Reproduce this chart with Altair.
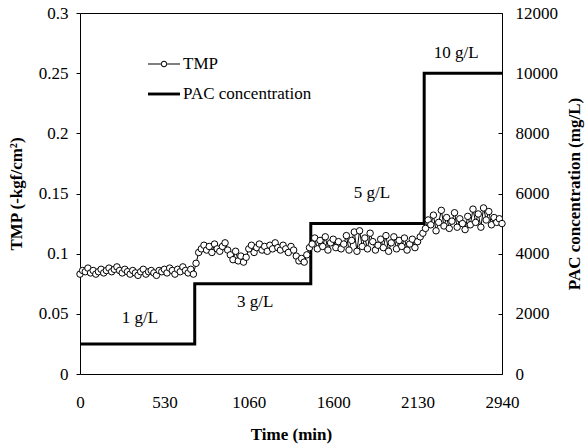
import json
import altair as alt
import pandas as pd

# ---------------- data ----------------
x_tick_labels = ["0", "530", "1060", "1600", "2130", "2940"]

tmp_1g = [0.083, 0.086, 0.085, 0.088, 0.084, 0.086, 0.083, 0.085, 0.087, 0.084,
          0.086, 0.088, 0.085, 0.087, 0.089, 0.086, 0.084, 0.087, 0.085, 0.083,
          0.086, 0.084, 0.082, 0.085, 0.087, 0.083, 0.085, 0.086, 0.084, 0.082,
          0.086, 0.085, 0.087, 0.084, 0.088, 0.086, 0.083, 0.087, 0.085, 0.089,
          0.086, 0.084, 0.087, 0.083]
tmp_3g = [0.092, 0.101, 0.104, 0.107, 0.103, 0.106, 0.101, 0.108, 0.104, 0.102,
          0.106, 0.109, 0.103, 0.099, 0.095, 0.102, 0.094, 0.098, 0.093, 0.097,
          0.104, 0.107, 0.101, 0.105, 0.108, 0.103, 0.106, 0.102, 0.107, 0.104,
          0.109, 0.105, 0.103, 0.107, 0.104, 0.101, 0.106, 0.103, 0.098, 0.094,
          0.096, 0.093, 0.099, 0.105]
tmp_5g = [0.108, 0.113, 0.104, 0.111, 0.106, 0.114, 0.103, 0.109, 0.112, 0.105,
          0.110, 0.104, 0.108, 0.115, 0.103, 0.111, 0.118, 0.102, 0.119, 0.106,
          0.113, 0.104, 0.117, 0.110, 0.103, 0.107, 0.112, 0.105, 0.115, 0.102,
          0.109, 0.114, 0.104, 0.111, 0.106, 0.113, 0.103, 0.108, 0.112, 0.105,
          0.110, 0.114, 0.117]
tmp_10g = [0.121, 0.128, 0.124, 0.132, 0.119, 0.126, 0.136, 0.123, 0.130, 0.121,
           0.127, 0.134, 0.122, 0.129, 0.125, 0.120, 0.131, 0.124, 0.137, 0.126,
           0.133, 0.122, 0.138, 0.128, 0.135, 0.124, 0.130, 0.126, 0.129, 0.125]

pac_levels = [1000, 3000, 5000, 10000]          # mg/L
step_labels = ["1 g/L", "3 g/L", "5 g/L", "10 g/L"]
step_label_x = [22.7, 66.4, 110.7, 142.6]       # sample index
step_label_y = [1860, 2390, 6020, 10670]        # mg/L

left_ticks = [0, 0.05, 0.1, 0.15, 0.2, 0.25, 0.3]
right_ticks = [0, 2000, 4000, 6000, 8000, 10000, 12000]
series_names = ["TMP", "PAC concentration"]

# ---------------- tables ----------------
segments = [tmp_1g, tmp_3g, tmp_5g, tmp_10g]
tmp_vals = [v for seg in segments for v in seg]
n = len(tmp_vals)
tmp_df = pd.DataFrame({"idx": list(range(n)), "tmp": tmp_vals})

starts, s = [], 0
for seg in segments:
    starts.append(0 if s == 0 else s - 0.5)
    s += len(seg)
pac_df = pd.DataFrame({"idx": starts + [n - 1], "pac": pac_levels + [pac_levels[-1]]})

lab_df = pd.DataFrame({"x": step_label_x, "y": step_label_y, "label": step_labels})
leg_df = pd.DataFrame({"idx": [None, None], "tmp": [None, None], "series": series_names})

FONT = "Liberation Serif"
step = (n - 1) / 5
x_ticks = [i * step for i in range(6)]

x_axis = alt.Axis(values=x_ticks, ticks=False, domain=False, grid=False, labelFlush=False,
                  labelExpr=f"{json.dumps(x_tick_labels)}[round(datum.value/{step})]",
                  labelPadding=20, title="Time (min)", titlePadding=16)
x_scale = alt.Scale(domain=[0, n - 1], nice=False, zero=False)

def xenc(field):
    return alt.X(f"{field}:Q", scale=x_scale, axis=x_axis)

left_axis = alt.Axis(orient="left", values=left_ticks, format="~g", grid=False,
                     domain=False, tickSize=4, tickColor="black", labelPadding=8,
                     labelFlush=False,
                     title="TMP (-kgf/cm²)", titlePadding=13)
right_axis = alt.Axis(orient="right", values=right_ticks, format="d", grid=False,
                      domain=False, offset=-4, tickSize=4, tickColor="black",
                      labelPadding=13, labelFlush=False, title="PAC concentration (mg/L)",
                      titleAngle=270, titlePadding=26)

left_scale = alt.Scale(domain=[0, 0.3], nice=False)
right_scale = alt.Scale(domain=[0, 12000], nice=False)

tmp_path = ("M-1,-0.03H-0.2V0.03H-1Z M0.2,-0.03H1V0.03H0.2Z "
            "M-0.2,0A0.2,0.2 0 1,1 0.2,0A0.2,0.2 0 1,1 -0.2,0Z "
            "M-0.14,0A0.14,0.14 0 1,0 0.14,0A0.14,0.14 0 1,0 -0.14,0Z")
pac_path = "M-1,-0.09H1V0.09H-1Z"

tmp_line = alt.Chart(tmp_df).mark_line(
    color="black", strokeWidth=1,
    point=alt.OverlayMarkDef(filled=True, fill="white", stroke="black",
                             size=42, strokeWidth=1, opacity=1)
).encode(x=xenc("idx"), y=alt.Y("tmp:Q", scale=left_scale, axis=left_axis))

legend_layer = alt.Chart(leg_df).mark_point(filled=True, color="black", opacity=1).encode(
    x=xenc("idx"),
    y=alt.Y("tmp:Q", scale=left_scale, axis=left_axis),
    shape=alt.Shape("series:N",
                    scale=alt.Scale(domain=series_names, range=[tmp_path, pac_path]),
                    legend=alt.Legend(orient="none", legendX=68, legendY=35, title=None,
                                      symbolSize=1024, symbolFillColor="black",
                                      symbolStrokeWidth=0, symbolOpacity=1,
                                      labelFont=FONT, labelFontSize=17, labelColor="black",
                                      labelOffset=3, rowPadding=6, padding=0))
)

pac_line = alt.Chart(pac_df).mark_line(
    interpolate="step-after", color="black", strokeWidth=3
).encode(x=xenc("idx"), y=alt.Y("pac:Q", scale=right_scale, axis=right_axis))

step_text = alt.Chart(lab_df).mark_text(font=FONT, fontSize=17, color="black").encode(
    x=xenc("x"), y=alt.Y("y:Q", scale=right_scale, axis=right_axis), text="label:N")

left = alt.layer(legend_layer, tmp_line)
right = alt.layer(pac_line, step_text)

chart = alt.layer(right, left).resolve_scale(y="independent").properties(
    width=422, height=361,
    autosize=alt.AutoSizeParams(type="none"),
    padding={"left": 80, "top": 13, "right": 85, "bottom": 74},
    background="white",
).configure_view(stroke="black", strokeWidth=1).configure_axis(
    labelFont=FONT, labelFontSize=17, labelColor="black",
    titleFont=FONT, titleFontSize=17, titleFontWeight="bold", titleColor="black",
)

chart.save("out.html", embed_options={"renderer": "svg", "actions": False})
